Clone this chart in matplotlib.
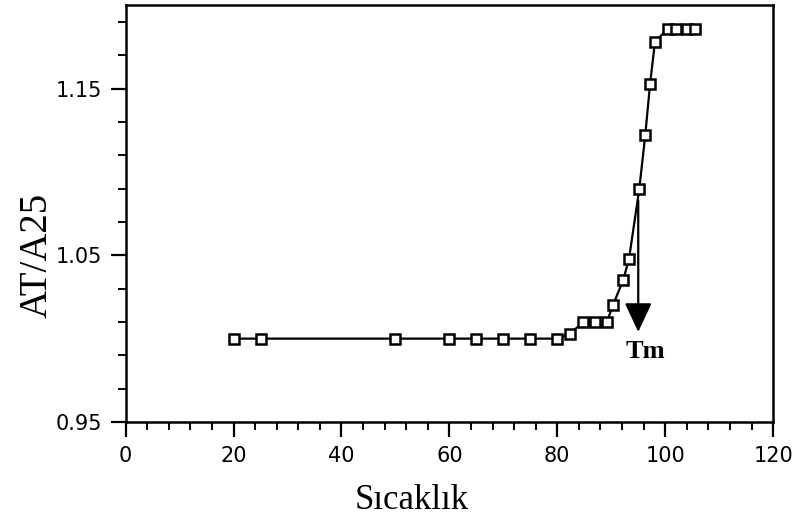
import matplotlib.pyplot as plt
from matplotlib.ticker import MultipleLocator, FixedLocator

# values
temp = [20, 25, 50, 60, 65, 70, 75, 80, 82.4, 84.8, 87, 89.2, 90.3, 92.2, 93.3,
        95.2, 96.3, 97.2, 98.1, 100.5, 102, 104, 105.5]
ratio = [1.0, 1.0, 1.0, 1.0, 1.0, 1.0, 1.0, 1.0, 1.003, 1.01, 1.01, 1.01, 1.02, 1.035, 1.048,
         1.09, 1.122, 1.153, 1.178, 1.186, 1.186, 1.186, 1.186]

tm_x = 95.0
arrow_top = 1.083
arrow_tip = 1.004

y_major = [0.95, 1.05, 1.15]
y_labels = ['0.95', '1.05', '1.15']


def draw_chart():
	fig = plt.figure(figsize=(7.95, 5.2), dpi=100)
	ax = fig.add_axes([0.158, 0.1885, 0.8145, 0.8015])

	ax.plot(temp, ratio, color='black', lw=1.6, marker='s', markersize=7,
			markerfacecolor='white', markeredgecolor='black', markeredgewidth=1.8)

	# Tm arrow
	ax.annotate('', xy=(tm_x, arrow_tip), xytext=(tm_x, arrow_top),
				arrowprops=dict(arrowstyle='-|>, head_width=0.42, head_length=0.9',
								color='black', lw=1.6, mutation_scale=20, shrinkA=0, shrinkB=0))
	ax.text(96.3, 0.992, 'Tm', family='Liberation Serif', fontweight='bold',
			fontsize=19, ha='center', va='center')

	ax.set_xlim(0, 120)
	ax.set_ylim(0.95, 1.2)
	ax.xaxis.set_major_locator(MultipleLocator(20))
	ax.xaxis.set_minor_locator(MultipleLocator(4))
	ax.yaxis.set_major_locator(FixedLocator(y_major))
	ax.yaxis.set_minor_locator(FixedLocator([0.95 + 0.02 * i for i in range(13)]))
	ax.set_yticklabels(y_labels)

	ax.tick_params(which='major', direction='out', length=11, width=1.6, labelsize=15, pad=6)
	ax.tick_params(which='minor', direction='out', length=6, width=1.4)
	for side in ['left', 'bottom', 'top', 'right']:
		ax.spines[side].set_linewidth(1.8)

	ax.set_xlabel('Sıcaklık', family='Liberation Serif', fontsize=25)
	ax.set_ylabel('AT/A25', family='Liberation Serif', fontsize=28)
	ax.xaxis.set_label_coords(0.442, -0.148)
	ax.yaxis.set_label_coords(-0.108, 0.40)

	fig.savefig('out.png', dpi=100)


if __name__ == "__main__":
	draw_chart()
